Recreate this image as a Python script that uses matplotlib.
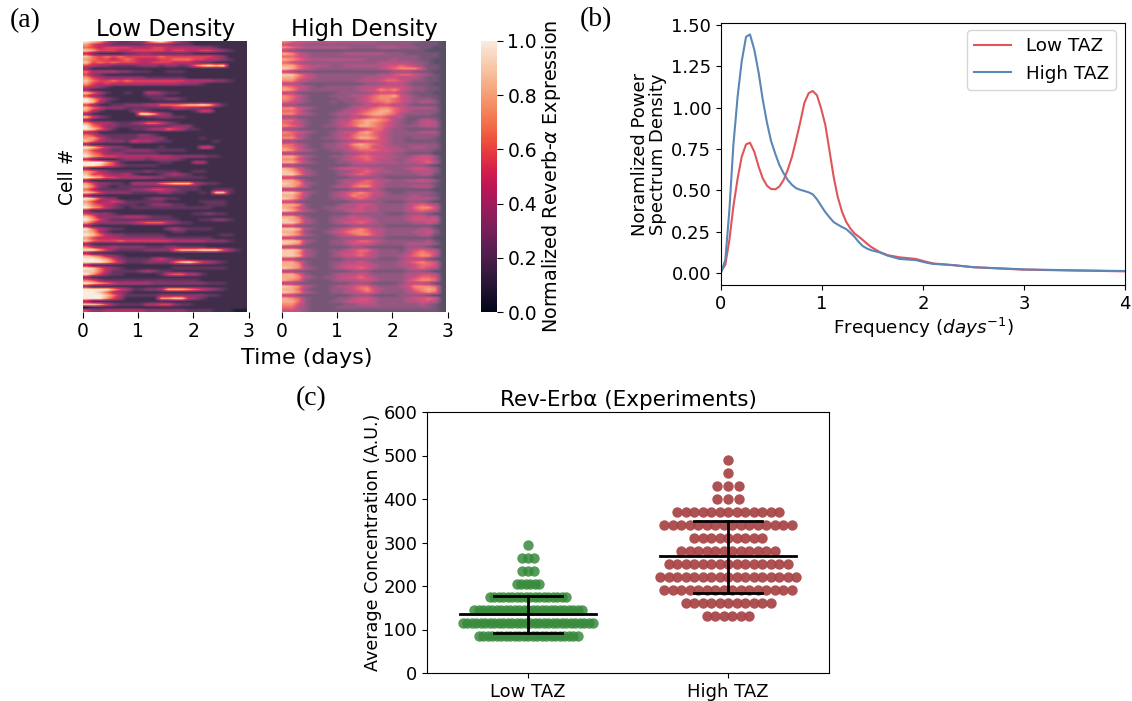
import numpy as np
import seaborn as sns
import matplotlib
matplotlib.use('Agg')
import matplotlib.pyplot as plt

FIG_W, FIG_H = 1132, 701

# each string is one cell, each digit is the expression level in ninths over time
low_density_rows = [
    "987532233689753211111111",
    "754322222333322211111111",
    "654555544455444443321111",
    "875554455555455445543211",
    "421111223322222211111111",
    "865656555556555555543111",
    "765545654445566655443211",
    "856565554455544432211111",
    "543322223332332368989111",
    "311111111111111111111111",
    "644443322211222111111111",
    "532111111111111111111111",
    "754333333222222111111111",
    "865565655555555444433211",
    "754544444444443332111111",
    "543211111111111111111111",
    "311111111111111111111111",
    "864211211443221111111111",
    "532111111222111111111111",
    "975321111122332111111111",
    "984211111111111111111111",
    "531122333446667889852111",
    "865333222222244332211111",
    "742111133211111125511111",
    "311111119974311111111111",
    "853211111223322111111111",
    "311111111111111111111111",
    "754432234665321111111111",
    "965332222222233311111111",
    "986421122344654221111111",
    "431111111111111111111111",
    "653222223321111111111111",
    "775322223333111112111111",
    "864333254432211111121111",
    "311111111111111111111111",
    "986433211112111115511111",
    "754322333322222111111111",
    "865333222221111111111111",
    "976554444444433333221111",
    "421112333233332111111111",
    "999752111112211144111111",
    "998653222221111111111111",
    "311111111111111111111111",
    "764322222322221122111111",
    "855433421112343211111111",
    "987554444433222222111111",
    "311111111111111111111111",
    "753322144446788843221111",
    "863212222222222221111111",
    "642222233455432221122211",
    "875333322223322112188211",
    "311111111111111111111111",
    "985331111233221111111111",
    "753454222222111112222111",
    "865432221233322111222111",
    "976432122222222222211111",
    "311111111111111111111111",
    "543321111111111122322111",
    "863333444322211111111111",
    "975322222222221112233211",
    "753333345666432211111111",
    "311111111111111111111111",
    "964322111111343222211111",
    "874211111111122111111111",
    "986433222222111111112211",
    "754443333333222222211111",
    "865556555555544444333211",
    "311111111111111111111111",
    "643343333222332222111111",
    "997532222333368889996421",
    "311111111111111111111111",
    "876432111111111111111111",
    "998753222245322111111111",
    "999864222333368975432111",
    "311111111111111111111111",
    "986432111111122222222111",
    "886422223432211111111111",
    "975322111112566442111111",
    "311111111111111111111111",
    "653222222222222221111111",
    "987654444433333333222111",
    "311111111111111111111111",
    "999975422334888765432111",
    "998643211111111111111111",
    "999864222223333333221111",
    "999753111117788432111111",
    "311111111111111111111111",
    "887532222445532211111111",
    "011111111111111111111111",
    "533444444333333222211100",
]
high_density_rows = [
    "765544454444443333332221",
    "544333333333333333322221",
    "765444444433334443332211",
    "432222222222222222222111",
    "875433333444444333222221",
    "665433333333333333332221",
    "876544444444333343332211",
    "654333333333334444433211",
    "886544433444444556543221",
    "986543333333334567775221",
    "432222222222222233322211",
    "997543333333334456654321",
    "886543333333444554443221",
    "775433333334445665433221",
    "443222222222333444322211",
    "765432333334445555433221",
    "875433333334557675433221",
    "442222223333345554322211",
    "765322233344567785432221",
    "764322223334567765433321",
    "654322232334566765434431",
    "332222222233445544322221",
    "775432222345567765444431",
    "665322223445678865433331",
    "775432234456788764333321",
    "332222223344566544222221",
    "664322234467887643224431",
    "654322234567876543234541",
    "765322334568876543334441",
    "332222223334566433222221",
    "765432234557865433334441",
    "664322234467765433333331",
    "775322334568875433233321",
    "332222223344555433222221",
    "664322334578765433333331",
    "765322334467755443344331",
    "875432233456665544333321",
    "332222222334544433222211",
    "886432233456655443345531",
    "775322223455654433455531",
    "886432223345554443445641",
    "332222222233333333333211",
    "875322234555544333455431",
    "986432223345654433344431",
    "997432223456543333334421",
    "442222222233333222222211",
    "886322223445654433445431",
    "987432223456654333333321",
    "886422234467754333344421",
    "332222222233343222222211",
    "997432234567654322333321",
    "886422234576644333343321",
    "986322233456543333444431",
    "442222222233333222333211",
    "887322223445543333456541",
    "875322334445443333467751",
    "986432233455443333456541",
    "332222222233333222333211",
    "886322233454433333455441",
    "987432234455543333455551",
    "997432234556543333344541",
    "442222222233333222222211",
    "998432234567644333334421",
    "886322345677654333344531",
    "987432234567754333334421",
    "442222223333333222222211",
    "998432233456654333333421",
    "987322233455543333444431",
    "332222222233222222333211",
    "998432233456643332456541",
    "997432234556543333467651",
    "998432234556543334567741",
    "442222222333332223444211",
    "886322233445433334567651",
    "887322234555543334456651",
    "987432234556543333456541",
    "332222222233322222333211",
    "886322234445433333445541",
    "887432334556543333456651",
    "876322234445543333567761",
    "332222222233322223444311",
    "987432234456643334577761",
    "886322233456754333467871",
    "987432233445653333456761",
    "442222222233322223333211",
    "876322223345543333455651",
    "886322233455543333445541",
    "775322222334443333334321",
    "664322223333333333333321",
    "554322222222222222222221",
]
time_extent = 2.96

freq_low = [0, 0.043, 0.083, 0.122, 0.165, 0.205, 0.248, 0.287, 0.33, 0.373, 0.413, 0.455, 0.495, 0.538,
            0.578, 0.62, 0.66, 0.703, 0.743, 0.785, 0.825, 0.868, 0.908, 0.95, 0.99, 1.033, 1.073, 1.115,
            1.155, 1.198, 1.238, 1.28, 1.32, 1.363, 1.403, 1.445, 1.485, 1.568, 1.65, 1.766, 1.93, 2.03,
            2.1, 2.29, 2.5, 3.0, 3.5, 4.0]
psd_low = [0.01, 0.05, 0.20, 0.40, 0.573, 0.703, 0.778, 0.788, 0.733, 0.643, 0.573, 0.528, 0.508, 0.506,
           0.523, 0.563, 0.623, 0.703, 0.803, 0.913, 1.028, 1.088, 1.101, 1.075, 0.998, 0.895, 0.744, 0.583,
           0.462, 0.371, 0.311, 0.27, 0.24, 0.22, 0.2, 0.178, 0.158, 0.128, 0.108, 0.095, 0.085, 0.068,
           0.058, 0.048, 0.035, 0.02, 0.015, 0.01]
freq_high = [0, 0.043, 0.083, 0.122, 0.165, 0.205, 0.248, 0.287, 0.33, 0.373, 0.413, 0.455, 0.495, 0.538,
             0.578, 0.62, 0.66, 0.703, 0.743, 0.785, 0.825, 0.868, 0.908, 0.95, 0.99, 1.033, 1.073, 1.115,
             1.155, 1.198, 1.238, 1.28, 1.32, 1.363, 1.403, 1.445, 1.485, 1.568, 1.65, 1.766, 1.93, 2.03,
             2.1, 2.29, 2.5, 3.0, 3.5, 4.0]
psd_high = [0.0, 0.08, 0.38, 0.77, 1.07, 1.28, 1.428, 1.443, 1.35, 1.21, 1.05, 0.91, 0.80, 0.72,
            0.653, 0.603, 0.563, 0.533, 0.513, 0.503, 0.496, 0.488, 0.476, 0.446, 0.408, 0.368, 0.338, 0.308,
            0.293, 0.278, 0.266, 0.244, 0.22, 0.188, 0.163, 0.148, 0.138, 0.125, 0.105, 0.085, 0.078, 0.063,
            0.055, 0.048, 0.035, 0.022, 0.016, 0.012]

low_taz_levels = [295, 265, 235, 205, 175, 145, 115, 85]
low_taz_counts = [1, 3, 3, 6, 18, 25, 30, 23]
high_taz_levels = [490, 460, 430, 400, 370, 340, 310, 280, 250, 220, 190, 160, 130]
high_taz_counts = [1, 1, 3, 3, 13, 16, 9, 12, 15, 17, 16, 11, 6]
taz_labels = ['Low TAZ', 'High TAZ']
taz_means = [135, 268]
taz_lower = [92, 185]
taz_upper = [178, 350]


def px_axes(fig, left, top, right, bottom):
    return fig.add_axes([left / FIG_W, 1 - bottom / FIG_H, (right - left) / FIG_W, (bottom - top) / FIG_H])


def draw_heatmap(ax, rows, title, alpha, vmax):
    data = np.array([[int(c) / 9 for c in r] for r in rows])
    ax.imshow(data, cmap=rocket, vmin=0, vmax=vmax, aspect='auto', alpha=alpha, interpolation='bilinear',
              extent=(0, time_extent, len(rows), 0))
    ax.set_xlim(0, 3)
    ax.set_xticks([0, 1, 2, 3])
    ax.set_yticks([])
    ax.tick_params(axis='x', labelsize=13.5, length=4)
    ax.set_title(title, fontsize=16.5, pad=3)
    for s in ax.spines.values():
        s.set_visible(False)


def draw_swarm(ax, center, levels, counts, step, color, alpha):
    for level, n in zip(levels, counts):
        gap = step * 1.3 if n == 3 else step
        xs = center + (np.arange(n) - (n - 1) / 2) * gap
        ax.scatter(xs, [level] * n, s=56, color=color, alpha=alpha, linewidths=0, zorder=2)


rocket = sns.color_palette('rocket', as_cmap=True)
fig = plt.figure(figsize=(FIG_W / 100, FIG_H / 100), dpi=100)

# (a) heatmaps
ax1 = px_axes(fig, 82.5, 41, 248.5, 312)
draw_heatmap(ax1, low_density_rows, 'Low Density', 0.9, 1.0)
ax1.set_ylabel('Cell #', fontsize=13.5, labelpad=4)
ax2 = px_axes(fig, 281.5, 41, 447.5, 312)
draw_heatmap(ax2, high_density_rows, 'High Density', 0.75, 1.15)
fig.text(307 / FIG_W, 1 - 358 / FIG_H, 'Time (days)', fontsize=16, ha='center', va='center')

cax = px_axes(fig, 481, 41, 497, 312)
sm = plt.cm.ScalarMappable(cmap=rocket, norm=plt.Normalize(0, 1))
cb = fig.colorbar(sm, cax=cax)
cb.set_ticks([0, 0.2, 0.4, 0.6, 0.8, 1.0])
cb.ax.tick_params(labelsize=13.5, length=4)
cb.outline.set_visible(False)
cb.set_label(r'Normalized Reverb-$\alpha$ Expression', fontsize=13.8, labelpad=2)

# (b) spectrum
ax3 = px_axes(fig, 721, 23, 1125, 285)
ax3.plot(freq_low, psd_low, color='#e0555a', lw=1.5, label='Low TAZ')
ax3.plot(freq_high, psd_high, color='#5b86b6', lw=1.5, label='High TAZ')
ax3.set_xlim(0, 4)
ax3.set_ylim(-0.0726, 1.512)
ax3.set_xticks([0, 1, 2, 3, 4])
ax3.set_yticks([0, 0.25, 0.5, 0.75, 1.0, 1.25, 1.5])
ax3.set_yticklabels(['0.00', '0.25', '0.50', '0.75', '1.00', '1.25', '1.50'])
ax3.tick_params(labelsize=13)
ax3.set_xlabel(r'Frequency ($days^{-1}$)', fontsize=13.2, labelpad=2)
ax3.set_ylabel('Noramlized Power\nSpectrum Density', fontsize=13, labelpad=3, linespacing=1.0)
ax3.legend(loc='upper right', fontsize=13.2, bbox_to_anchor=(0.978, 0.973), borderaxespad=0)

# (c) swarm
ax4 = px_axes(fig, 427, 412, 829, 673)
draw_swarm(ax4, 0, low_taz_levels, low_taz_counts, 0.0225, '#388a3c', 0.85)
draw_swarm(ax4, 1, high_taz_levels, high_taz_counts, 0.0425, '#a84446', 0.93)
for i in range(2):
    ax4.plot([i, i], [taz_lower[i], taz_upper[i]], color='black', lw=2, zorder=3)
    ax4.plot([i - 0.34, i + 0.34], [taz_means[i]] * 2, color='black', lw=2, zorder=3)
    ax4.plot([i - 0.17, i + 0.17], [taz_lower[i]] * 2, color='black', lw=2, zorder=3)
    ax4.plot([i - 0.17, i + 0.17], [taz_upper[i]] * 2, color='black', lw=2, zorder=3)
ax4.set_xlim(-0.505, 1.505)
ax4.set_ylim(0, 600)
ax4.set_xticks([0, 1])
ax4.set_xticklabels(taz_labels)
ax4.tick_params(labelsize=13)
ax4.set_ylabel('Average Concentration (A.U.)', fontsize=12.6, labelpad=1)
ax4.set_title('Rev-Erbα (Experiments)', fontsize=15.5, pad=4)

for label, x, y in [('(a)', 25, 21), ('(b)', 596, 20), ('(c)', 311, 399)]:
    fig.text(x / FIG_W, 1 - y / FIG_H, label, family='Liberation Serif', fontsize=20, ha='center', va='center')

fig.savefig('out.png', dpi=100)
